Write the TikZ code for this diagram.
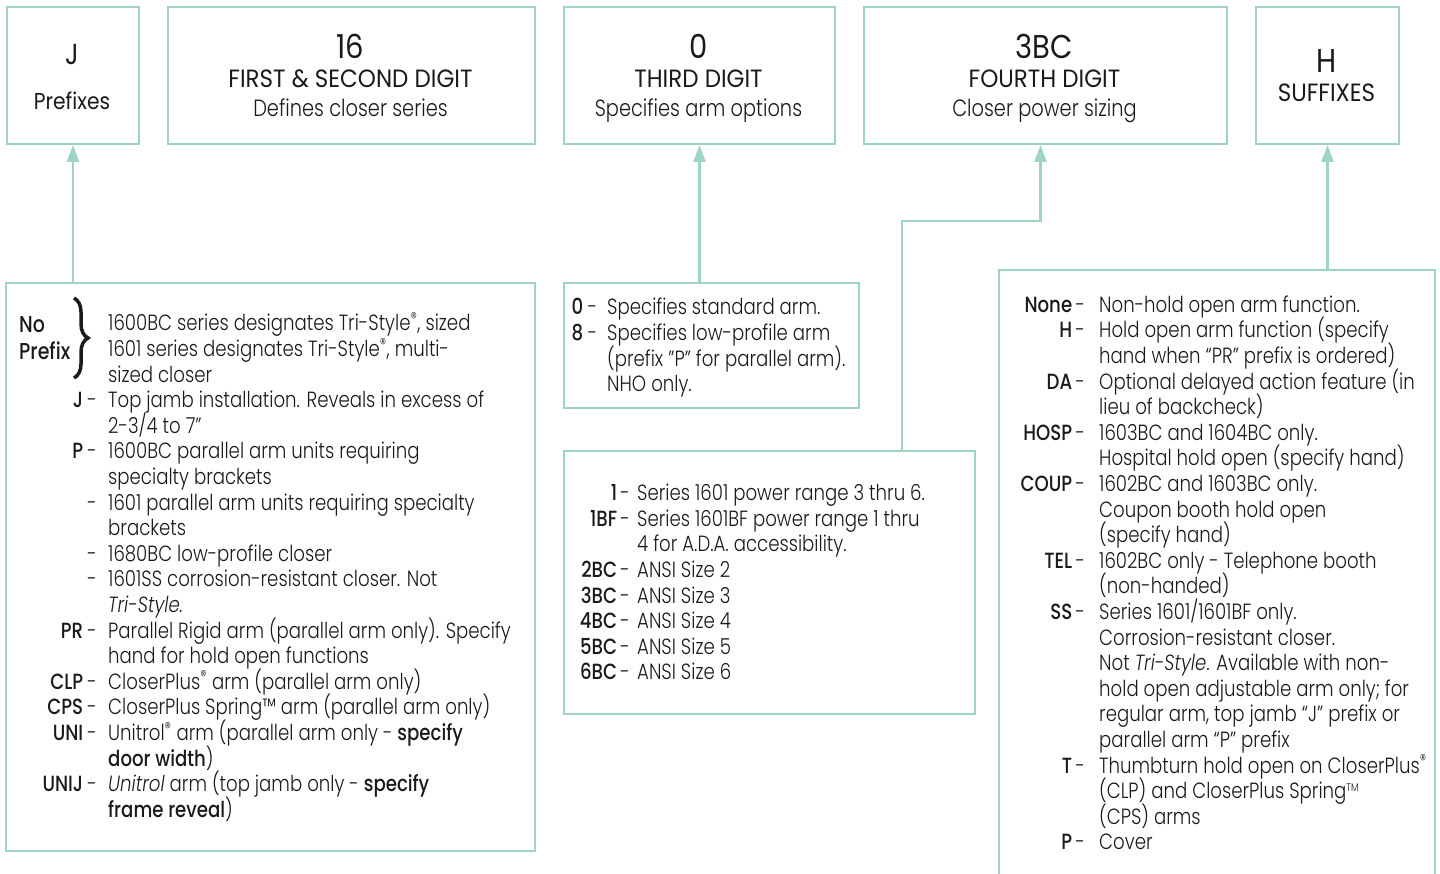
\documentclass[tikz,border=0pt]{standalone}
\usepackage{fontspec}
\usepackage{array}
\usepackage{tikz}
\usetikzlibrary{arrows.meta, decorations.pathreplacing, positioning}

\setmainfont{Poppins}[UprightFont=* Light, BoldFont=* Medium, ItalicFont=* Light Italic, BoldItalicFont=* Medium Italic, FakeStretch=0.825]
\newfontfamily\headfont{Poppins}[FakeStretch=0.88]
\newfontfamily\capsfont{Poppins}[FakeStretch=0.92]

\definecolor{boxline}{HTML}{9ED4C8}
\definecolor{ink}{HTML}{1A1A1A}

\newsavebox{\cellbox}
\newcolumntype{K}[1]{>{\bfseries\raggedleft\arraybackslash}p{#1}}
\newcolumntype{M}[1]{>{\centering\arraybackslash}p{#1}}
\newcolumntype{T}{>{\begin{lrbox}{\cellbox}}l<{\end{lrbox}\smash{\usebox{\cellbox}}}}
\newcommand{\regmark}{\textsuperscript{\textregistered}}
\newcommand{\tmmark}{\textsuperscript{\fontsize{11}{11}\selectfont TM}}

\begin{document}
\begin{tikzpicture}[
    x=1pt, y=-1pt,
    >={Triangle[width=12pt,length=17pt]},
    box/.style={draw=boxline, line width=2pt, anchor=north west, inner sep=0pt},
    link/.style={->, color=boxline, line width=2.5pt},
    bignum/.style={anchor=base, inner sep=0pt, text=ink, font=\fontsize{33}{33}\headfont},
    heading/.style={anchor=base, inner sep=0pt, text=ink, font=\fontsize{25}{25}\capsfont},
    subhead/.style={anchor=base, inner sep=0pt, text=ink, font=\fontsize{23.5}{23.5}\selectfont},
    list/.style={anchor=base west, inner sep=0pt, text=ink, font=\fontsize{22}{25.6}\selectfont}
  ]
  \useasboundingbox (0,0) rectangle (1440,874);

  % Kopfzeile mit den Stellen der Bestellnummer
  \node[box, minimum width=132pt, minimum height=137pt] (prefixhead) at (6,6) {};
  \node[box, minimum width=367pt, minimum height=137pt] (serieshead) at (167,6) {};
  \node[box, minimum width=271pt, minimum height=137pt] (armhead) at (563,6) {};
  \node[box, minimum width=363pt, minimum height=137pt] (sizehead) at (863,6) {};
  \node[box, minimum width=143pt, minimum height=137pt] (suffixhead) at (1255,6) {};

  \node[bignum, font=\fontsize{29}{29}\headfont] (prefixnum) at (72,65) {J};
  \node[heading, font=\fontsize{23}{23}\headfont] (prefixname) at (72,110) {Prefixes};
  \node[bignum] (seriesnum) at (350.5,59) {16};
  \node[heading] (seriesname) at (350.5,88) {FIRST \& SECOND DIGIT};
  \node[subhead] (seriesdesc) at (350.5,116.5) {Defines closer series};
  \node[bignum] (armnum) at (698.5,59) {0};
  \node[heading] (armname) at (698.5,88) {THIRD DIGIT};
  \node[subhead] (armdesc) at (698.5,116.5) {Specifies arm options};
  \node[bignum] (sizenum) at (1044.5,59) {3BC};
  \node[heading] (sizename) at (1044.5,88) {FOURTH DIGIT};
  \node[subhead] (sizedesc) at (1044.5,116.5) {Closer power sizing};
  \node[bignum] (suffixnum) at (1326.5,72.7) {H};
  \node[heading] (suffixname) at (1326.5,101.7) {SUFFIXES};

  % Erklaerungen
  \node[box, minimum width=529pt, minimum height=568pt] (prefixlist) at (5,282) {};
  \node[box, minimum width=295pt, minimum height=125pt] (armlist) at (563,282) {};
  \node[box, minimum width=411pt, minimum height=263pt] (sizelist) at (563,450) {};
  \node[box, minimum width=436pt, minimum height=607pt] (suffixlist) at (998,269) {};

  \node[anchor=base west, inner sep=0pt, text=ink, font=\fontsize{23}{27}\bfseries] (noprefix) at (19,333)
    {\begin{tabular}[t]{@{}l@{}}No\\Prefix\end{tabular}};
  \draw[decorate, decoration={brace, amplitude=14pt}, line width=3.5pt, ink] (74,298) -- (74,378);

  \node[list] (prefixtext) at (23,331) {\begin{tabular}[t]{@{}K{60pt}@{}M{18pt}@{\hspace{7pt}}T@{}}
     & & 1600BC series designates Tri-Style\regmark, sized\\
     & & 1601 series designates Tri-Style\regmark, multi-\\
     & & sized closer\\
    J & - & Top jamb installation. Reveals in excess of\\
     & & 2-3/4 to 7"\\
    P & - & 1600BC parallel arm units requiring\\
     & & specialty brackets\\
     & - & 1601 parallel arm units requiring specialty\\
     & & brackets\\
     & - & 1680BC low-profile closer\\
     & - & 1601SS corrosion-resistant closer. Not\\
     & & \textit{Tri-Style.}\\
    PR & - & Parallel Rigid arm (parallel arm only). Specify\\
     & & hand for hold open functions\\
    CLP & - & CloserPlus\regmark{} arm (parallel arm only)\\
    CPS & - & CloserPlus Spring™ arm (parallel arm only)\\
    UNI & - & Unitrol\regmark{} arm (parallel arm only - \textbf{specify}\\
     & & \textbf{door width})\\
    UNIJ & - & \textit{Unitrol} arm (top jamb only - \textbf{specify}\\
     & & \textbf{frame reveal})
  \end{tabular}};

  \node[list] (armtext) at (563,315) {\begin{tabular}[t]{@{}K{20pt}@{}M{19pt}@{\hspace{5pt}}T@{}}
    0 & - & Specifies standard arm.\\
    8 & - & Specifies low-profile arm\\
     & & (prefix "P" for parallel arm).\\
     & & NHO only.
  \end{tabular}};

  \node[list] (sizetext) at (567,500.7) {\begin{tabular}[t]{@{}K{50pt}@{}M{16pt}@{\hspace{4pt}}T@{}}
    1 & - & Series 1601 power range 3 thru 6.\\
    1BF & - & Series 1601BF power range 1 thru\\
     & & 4 for A.D.A. accessibility.\\
    2BC & - & ANSI Size 2\\
    3BC & - & ANSI Size 3\\
    4BC & - & ANSI Size 4\\
    5BC & - & ANSI Size 5\\
    6BC & - & ANSI Size 6
  \end{tabular}};

  \node[list] (suffixtext) at (1002,312.3) {\begin{tabular}[t]{@{}K{70pt}@{}M{16pt}@{\hspace{11pt}}T@{}}
    None & - & Non-hold open arm function.\\
    H & - & Hold open arm function (specify\\
     & & hand when “PR” prefix is ordered)\\
    DA & - & Optional delayed action feature (in\\
     & & lieu of backcheck)\\
    HOSP & - & 1603BC and 1604BC only.\\
     & & Hospital hold open (specify hand)\\
    COUP & - & 1602BC and 1603BC only.\\
     & & Coupon booth hold open\\
     & & (specify hand)\\
    TEL & - & 1602BC only - Telephone booth\\
     & & (non-handed)\\
    SS & - & Series 1601/1601BF only.\\
     & & Corrosion-resistant closer.\\
     & & Not \textit{Tri-Style}. Available with non-\\
     & & hold open adjustable arm only; for\\
     & & regular arm, top jamb “J” prefix or\\
     & & parallel arm “P” prefix\\
    T & - & Thumbturn hold open on CloserPlus\regmark\\
     & & (CLP) and CloserPlus Spring\tmmark\\
     & & (CPS) arms\\
    P & - & Cover
  \end{tabular}};

  % Verbindungen
  \coordinate (sizebend) at (902,221);
  \draw[link] (prefixhead.south |- prefixlist.north) -- (prefixhead.south);
  \draw[link] (armhead.south |- armlist.north) -- (armhead.south);
  \draw[link] (sizebend |- sizelist.north) -- (sizebend) -| ([xshift=-5pt]sizehead.south);
  \draw[link] (suffixhead.south |- suffixlist.north) -- (suffixhead.south);
\end{tikzpicture}
\end{document}
